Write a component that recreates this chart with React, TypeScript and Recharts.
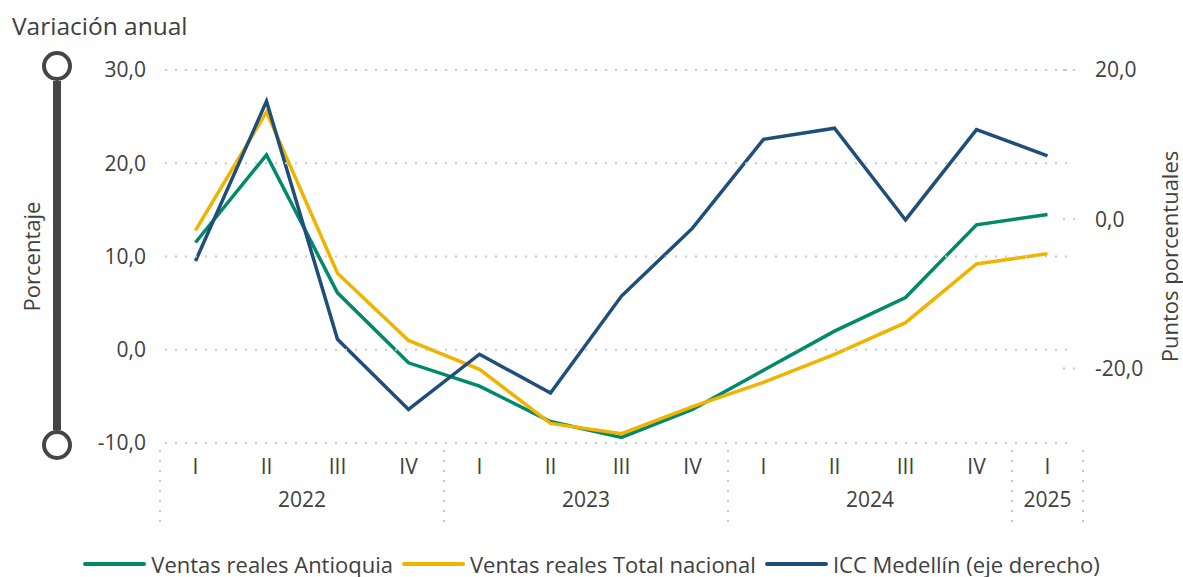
import { LineChart, Line, XAxis, YAxis } from "recharts";

const trimestres = ["I", "II", "III", "IV", "I", "II", "III", "IV", "I", "II", "III", "IV", "I"];
const anios = ["2022", "2022", "2022", "2022", "2023", "2023", "2023", "2023", "2024", "2024", "2024", "2024", "2025"];

const antioquia = [11.5, 20.9, 6.1, -1.4, -3.9, -7.7, -9.4, -6.4, -2.2, 2.0, 5.6, 13.4, 14.5];
const totalNacional = [12.8, 25.5, 8.2, 1.0, -2.1, -7.9, -9.0, -6.1, -3.5, -0.5, 2.9, 9.2, 10.3];
const iccMedellin = [-5.6, 15.8, -16.1, -25.5, -18.1, -23.3, -10.3, -1.2, 10.7, 12.2, -0.1, 12.0, 8.5];

const leftTicks = [-10, 0, 10, 20, 30];
const rightTicks = [-20, 0, 20];

const GREEN = "#008A6A";
const YELLOW = "#F0B400";
const BLUE = "#1F4E7A";
const TEXT = "#404040";
const GRID = "#C8C8C8";
const SLIDER = "#454545";
const FONT = '"Segoe UI", "Open Sans", sans-serif';

const W = 1183;
const H = 577;
const M_LEFT = 100;
const M_TOP = 70;
const LEFT_AXIS_W = 60;
const RIGHT_AXIS_W = 100;
const X_AXIS_H = 134;
const PLOT_LEFT = M_LEFT + LEFT_AXIS_W;
const PLOT_RIGHT = W - RIGHT_AXIS_W;
const PLOT_BOTTOM = H - X_AXIS_H;
const BAND = (PLOT_RIGHT - PLOT_LEFT) / trimestres.length;

const series = [
  { key: "antioquia", name: "Ventas reales Antioquia", color: GREEN, axis: "left" },
  { key: "total", name: "Ventas reales Total nacional", color: YELLOW, axis: "left" },
  { key: "icc", name: "ICC Medellín (eje derecho)", color: BLUE, axis: "right" },
];

const data = trimestres.map((q, i) => ({
  id: `${anios[i]}-${q}`,
  antioquia: antioquia[i],
  total: totalNacional[i],
  icc: iccMedellin[i],
}));

const fmt = (v: number) => v.toFixed(1).replace(".", ",");

function LeftTick(props: any) {
  const { x, y, payload } = props;
  return (
    <g>
      <line
        x1={PLOT_LEFT + 5}
        x2={PLOT_RIGHT - 15}
        y1={y}
        y2={y}
        stroke={GRID}
        strokeWidth={2}
        strokeDasharray="2 8"
      />
      <text x={x} y={y} dy="0.35em" textAnchor="end" fill={TEXT} fontSize={21} fontFamily={FONT}>
        {fmt(payload.value)}
      </text>
    </g>
  );
}

function RightTick(props: any) {
  const { x, y, payload } = props;
  return (
    <g>
      <line
        x1={PLOT_RIGHT - 20}
        x2={PLOT_RIGHT - 5}
        y1={y}
        y2={y}
        stroke={GRID}
        strokeWidth={2}
        strokeDasharray="2 8"
      />
      <text x={x} y={y} dy="0.35em" textAnchor="start" fill={TEXT} fontSize={21} fontFamily={FONT}>
        {fmt(payload.value)}
      </text>
    </g>
  );
}

function QuarterTick(props: any) {
  const { x, y, index } = props;
  const year = anios[index];
  const first = index === 0 || anios[index - 1] !== year;
  const last = index === anios.length - 1;
  const count = anios.filter((a) => a === year).length;
  const sep = (sx: number) => (
    <line x1={sx} x2={sx} y1={y + 7} y2={y + 79} stroke={GRID} strokeWidth={2} strokeDasharray="2 8" />
  );
  return (
    <g>
      {first && sep(x - BAND / 2)}
      {last && sep(x + BAND / 2)}
      <text x={x} y={y + 24} dy="0.35em" textAnchor="middle" fill={TEXT} fontSize={21} fontFamily={FONT}>
        {trimestres[index]}
      </text>
      {first && (
        <text
          x={x + ((count - 1) / 2) * BAND}
          y={y + 57}
          dy="0.35em"
          textAnchor="middle"
          fill={TEXT}
          fontSize={21}
          fontFamily={FONT}
        >
          {year}
        </text>
      )}
    </g>
  );
}

export default function App() {
  const midY = (M_TOP + PLOT_BOTTOM) / 2;
  return (
    <div style={{ position: "absolute", left: 0, top: 0, width: W, height: H, background: "#fff", fontFamily: FONT }}>
      <LineChart width={W} height={H} data={data} margin={{ top: M_TOP, right: 0, bottom: 0, left: M_LEFT }}>
        <XAxis
          dataKey="id"
          interval={0}
          height={X_AXIS_H}
          padding={{ left: BAND / 2, right: BAND / 2 }}
          axisLine={false}
          tickLine={false}
          tickSize={0}
          tickMargin={0}
          tick={(p: any) => <QuarterTick {...p} />}
        />
        <YAxis
          yAxisId="left"
          width={LEFT_AXIS_W}
          domain={[-10, 30]}
          ticks={leftTicks}
          axisLine={false}
          tickLine={false}
          tickSize={0}
          tickMargin={14}
          tick={(p: any) => <LeftTick {...p} />}
        />
        <YAxis
          yAxisId="right"
          orientation="right"
          width={RIGHT_AXIS_W}
          domain={[-30, 20]}
          ticks={rightTicks}
          axisLine={false}
          tickLine={false}
          tickSize={0}
          tickMargin={12}
          tick={(p: any) => <RightTick {...p} />}
        />
        {series.map((s) => (
          <Line
            key={s.key}
            yAxisId={s.axis}
            type="linear"
            dataKey={s.key}
            name={s.name}
            stroke={s.color}
            strokeWidth={3.5}
            dot={false}
            activeDot={false}
            isAnimationActive={false}
          />
        ))}
      </LineChart>

      <svg width={W} height={H} style={{ position: "absolute", left: 0, top: 0, pointerEvents: "none" }}>
        <text x={12} y={26} dy="0.35em" fill={TEXT} fontSize={24.5} fontFamily={FONT}>
          Variación anual
        </text>
        <line x1={57} x2={57} y1={66 + 15} y2={PLOT_BOTTOM + 2 - 15} stroke={SLIDER} strokeWidth={8} />
        <circle cx={57} cy={66} r={13} fill="#fff" stroke={SLIDER} strokeWidth={4} />
        <circle cx={57} cy={PLOT_BOTTOM + 2} r={13} fill="#fff" stroke={SLIDER} strokeWidth={4} />
        <text
          x={32}
          y={midY}
          dy="0.35em"
          textAnchor="middle"
          transform={`rotate(-90 32 ${midY})`}
          fill={TEXT}
          fontSize={22}
          fontFamily={FONT}
        >
          Porcentaje
        </text>
        <text
          x={1170}
          y={midY}
          dy="0.35em"
          textAnchor="middle"
          transform={`rotate(-90 1170 ${midY})`}
          fill={TEXT}
          fontSize={22}
          fontFamily={FONT}
        >
          Puntos porcentuales
        </text>
      </svg>

      <div
        style={{
          position: "absolute",
          left: 0,
          top: 549,
          width: W,
          height: 30,
          display: "flex",
          justifyContent: "center",
          alignItems: "center",
          gap: 9,
          color: TEXT,
          fontSize: 22,
          whiteSpace: "nowrap",
        }}
      >
        {series.map((s) => (
          <div key={s.key} style={{ display: "flex", alignItems: "center" }}>
            <div style={{ width: 63, height: 4, borderRadius: 2, background: s.color, marginRight: 5 }} />
            <span>{s.name}</span>
          </div>
        ))}
      </div>
    </div>
  );
}
